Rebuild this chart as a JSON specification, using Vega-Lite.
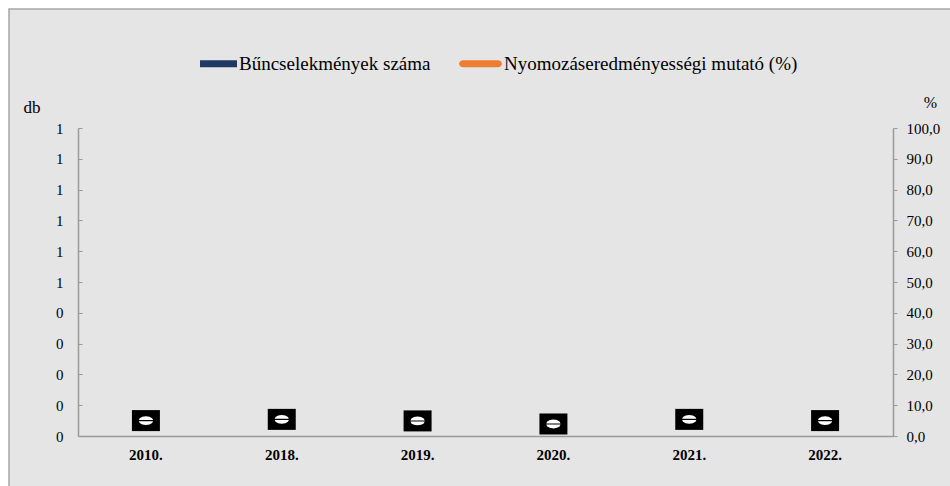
{
  "$schema": "https://vega.github.io/schema/vega-lite/v6.json",
  "width": 945,
  "height": 480,
  "autosize": {"type": "none"},
  "padding": {"left": 9, "top": 9, "right": 0, "bottom": 0},
  "background": "white",
  "config": {
    "view": {"fill": "#e5e5e5", "stroke": "#a6a6a6", "strokeWidth": 1.5},
    "font": "Liberation Serif",
    "locale": {"number": {"decimal": ",", "thousands": " ", "grouping": [3], "currency": ["", " Ft"]}},
    "axis": {"labelFont": "Liberation Serif", "titleFont": "Liberation Serif", "labelColor": "black", "titleColor": "black", "domainColor": "#9a9a9a", "tickColor": "#9a9a9a", "domainWidth": 1.5, "grid": false}
  },
  "data": {
    "values": [
      {"ev": "2010.", "db": 0, "mutato": 5.0},
      {"ev": "2018.", "db": 0, "mutato": 5.4},
      {"ev": "2019.", "db": 0, "mutato": 4.9},
      {"ev": "2020.", "db": 0, "mutato": 3.9},
      {"ev": "2021.", "db": 0, "mutato": 5.4},
      {"ev": "2022.", "db": 0, "mutato": 5.0}
    ]
  },
  "encoding": {
    "x": {
      "field": "ev", "type": "nominal", "sort": null,
      "scale": {"range": [69, 884], "paddingInner": 0.4, "paddingOuter": 0.2},
      "axis": {"title": null, "labelAngle": 0, "labelFontSize": 15, "labelFontWeight": "bold", "ticks": false, "labelPadding": 11, "offset": -53}
    }
  },
  "layer": [
    {
      "mark": {"type": "bar"},
      "encoding": {
        "y": {
          "field": "db", "type": "quantitative",
          "scale": {"domain": [0, 1], "range": [427, 119]},
          "axis": {"title": "db", "titleAngle": 0, "titleAlign": "left", "titleBaseline": "alphabetic", "titleX": -55, "titleY": 103, "titleFontSize": 17, "titleFontWeight": "normal", "values": [0, 0.1, 0.2, 0.3, 0.4, 0.5, 0.6, 0.7, 0.8, 0.9, 1], "format": ".0f", "labelFontSize": 15, "tickSize": -4, "labelPadding": 19, "offset": -69}
        },
        "color": {
          "datum": "Bűncselekmények száma",
          "scale": {"domain": ["Bűncselekmények száma", "Nyomozáseredményességi mutató (%)"], "range": ["#1f3864", "#ed7d31"]},
          "legend": {
            "orient": "none", "legendX": 185, "legendY": 33, "direction": "horizontal", "title": null,
            "symbolSize": 1849, "symbolStrokeWidth": 0,
            "labelFontSize": 19, "labelFont": "Liberation Serif", "labelColor": "black", "labelOffset": 2, "columnPadding": 28, "labelLimit": 600,
            "encode": {
              "symbols": {
                "update": {
                  "shape": {"signal": "datum.value === 'Bűncselekmények száma' ? 'M-0.72,-0.163H1V0.163H-0.72Z' : 'M-0.837,-0.163L0.837,-0.163L0.952,-0.115L1,0L0.952,0.115L0.837,0.163L-0.837,0.163L-0.952,0.115L-1,0L-0.952,-0.115Z'"}
                }
              }
            }
          }
        }
      }
    },
    {
      "encoding": {
        "y": {
          "field": "mutato", "type": "quantitative",
          "scale": {"domain": [0, 100], "range": [427, 119]},
          "axis": {"orient": "right", "title": "%", "titleAngle": 0, "titleAlign": "center", "titleBaseline": "alphabetic", "titleX": 37, "titleY": 98, "titleFontSize": 16, "titleFontWeight": "normal", "values": [0, 10, 20, 30, 40, 50, 60, 70, 80, 90, 100], "format": ".1f", "labelFontSize": 15, "tickSize": 4, "labelPadding": 9, "offset": -61}
        }
      },
      "layer": [
        {"mark": {"type": "point", "filled": true, "shape": "M-1.333,-1H1.333V1H-1.333Z", "size": 441, "color": "black", "opacity": 1, "strokeWidth": 0}},
        {"mark": {"type": "point", "filled": true, "shape": "M-0.68,-0.05L-0.589,-0.235L-0.34,-0.37L0,-0.42L0.34,-0.37L0.589,-0.235L0.68,-0.05ZM-0.68,0.05L-0.589,0.235L-0.34,0.37L0,0.42L0.34,0.37L0.589,0.235L0.68,0.05Z", "size": 441, "color": "white", "opacity": 1, "strokeWidth": 0}}
      ]
    }
  ],
  "resolve": {"scale": {"y": "independent"}, "axis": {"y": "independent"}}
}
